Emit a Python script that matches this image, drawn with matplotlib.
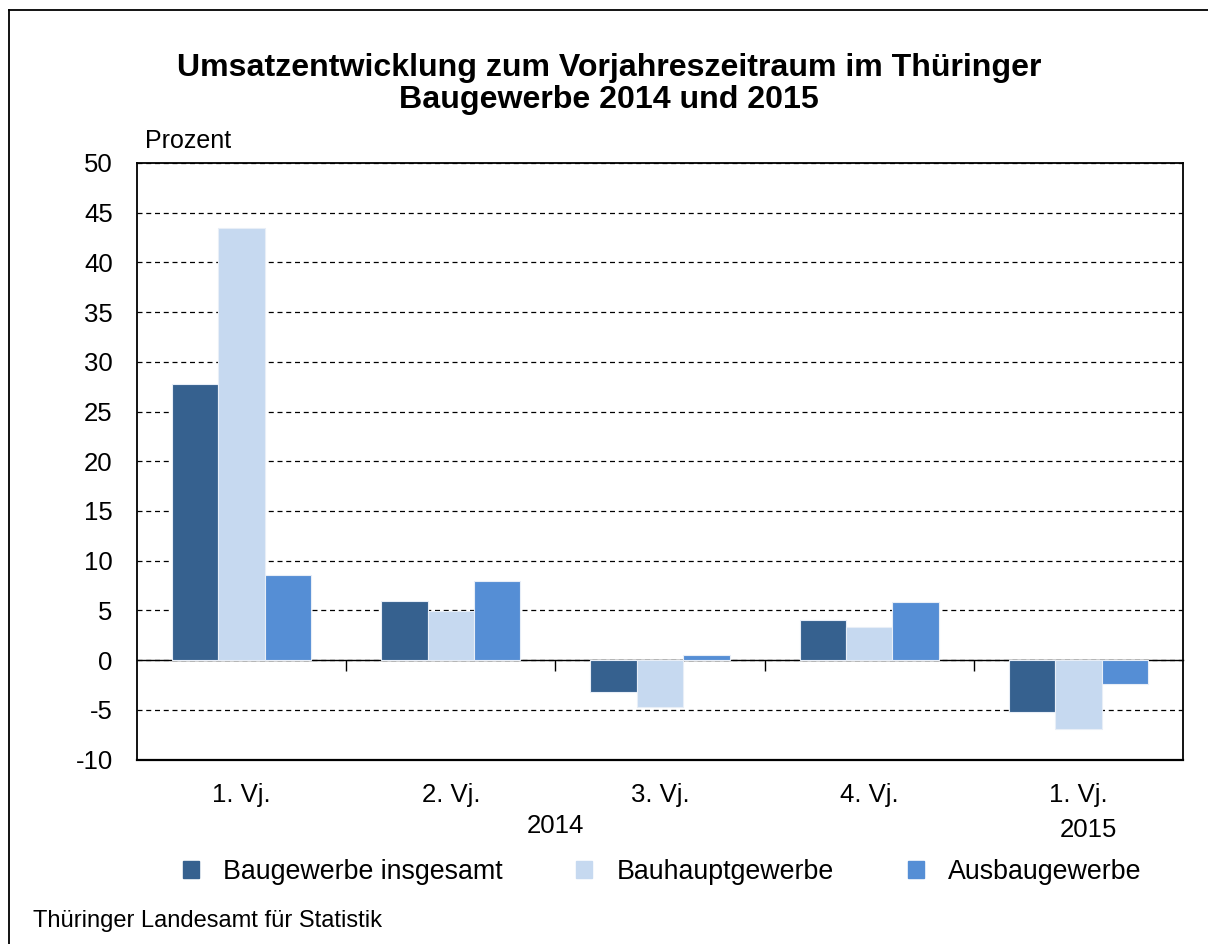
import matplotlib.pyplot as plt
import numpy as np
from matplotlib.lines import Line2D
from matplotlib.patches import Rectangle

plt.rcParams['font.family'] = ['Liberation Sans', 'DejaVu Sans']
plt.rcParams['axes.unicode_minus'] = False

quarters = ['1. Vj.', '2. Vj.', '3. Vj.', '4. Vj.', '1. Vj.']
years = ['2014', '2015']
series_names = ['Baugewerbe insgesamt', 'Bauhauptgewerbe', 'Ausbaugewerbe']
insgesamt = [27.8, 5.9, -3.2, 4.0, -5.2]
bauhaupt = [43.5, 4.9, -4.7, 3.3, -6.9]
ausbau = [8.6, 8.0, 0.5, 5.8, -2.4]
colors = ['#36618f', '#c6d9f0', '#558ed5']

fig = plt.figure(figsize=(12.08, 9.44), dpi=100)
ax = fig.add_axes([137 / 1208, 1 - 759.5 / 944, 1046 / 1208, 596.5 / 944])

x = np.arange(len(quarters))
w = 0.222
for i, (vals, c) in enumerate(zip([insgesamt, bauhaupt, ausbau], colors)):
    ax.bar(x + (i - 1) * w, vals, w, color=c, edgecolor='#e8eef7', linewidth=0.8, zorder=3)

ax.set_xlim(-0.5, len(quarters) - 0.5)
ax.set_ylim(-10, 50)
ax.set_yticks(np.arange(-10, 51, 5))
ax.yaxis.grid(True, linestyle=(0, (4, 3)), color='black', linewidth=0.9)
ax.set_axisbelow(True)
ax.tick_params(axis='y', length=0, pad=17.5, labelsize=18.5)

# zero line with ticks at category borders
ax.spines['bottom'].set_position(('data', 0))
ax.spines['bottom'].set_linewidth(1.0)
ax.set_xticks(x[:-1] + 0.5)
ax.set_xticklabels([])
ax.tick_params(axis='x', direction='out', length=8, width=1.0)
ax.plot([0, 1], [0, 0], transform=ax.transAxes, color='black', lw=1.6, clip_on=False, zorder=5)
for s in ['left', 'right', 'top']:
    ax.spines[s].set_linewidth(1.3)

trans = ax.get_xaxis_transform()
for xi, q in zip(x, quarters):
    ax.text(xi, -0.06, q, transform=trans, ha='center', va='center', fontsize=18.5)
ax.text(1.5, -0.111, years[0], transform=trans, ha='center', va='center', fontsize=18.5)
ax.text(4.05, -0.118, years[1], transform=trans, ha='center', va='center', fontsize=18.5)

fig.text(145 / 1208, 1 - 141 / 944, 'Prozent', ha='left', va='center', fontsize=18)
fig.text(609 / 1208, 1 - 84 / 944,
         'Umsatzentwicklung zum Vorjahreszeitraum im Thüringer\nBaugewerbe 2014 und 2015',
         ha='center', va='center', fontsize=23.1, fontweight='bold', linespacing=1.12)
fig.text(33 / 1208, 1 - 921 / 944, 'Thüringer Landesamt für Statistik',
         ha='left', va='center', fontsize=17)

handles = [Rectangle((0, 0), 1, 1, color=c) for c in colors]
fig.legend(handles, series_names, loc='center', bbox_to_anchor=(662 / 1208, 1 - 872 / 944),
           ncol=3, frameon=False, fontsize=19.3, handlelength=0.6, handleheight=0.6,
           handletextpad=0.9, columnspacing=2.75)

# outer border (open to the right and bottom)
fig.add_artist(Line2D([9 / 1208, 9 / 1208], [0, 1 - 10 / 944], transform=fig.transFigure, color='black', lw=1.3))
fig.add_artist(Line2D([9 / 1208, 1], [1 - 10 / 944, 1 - 10 / 944], transform=fig.transFigure, color='black', lw=1.3))

plt.savefig('out.png', dpi=100)
